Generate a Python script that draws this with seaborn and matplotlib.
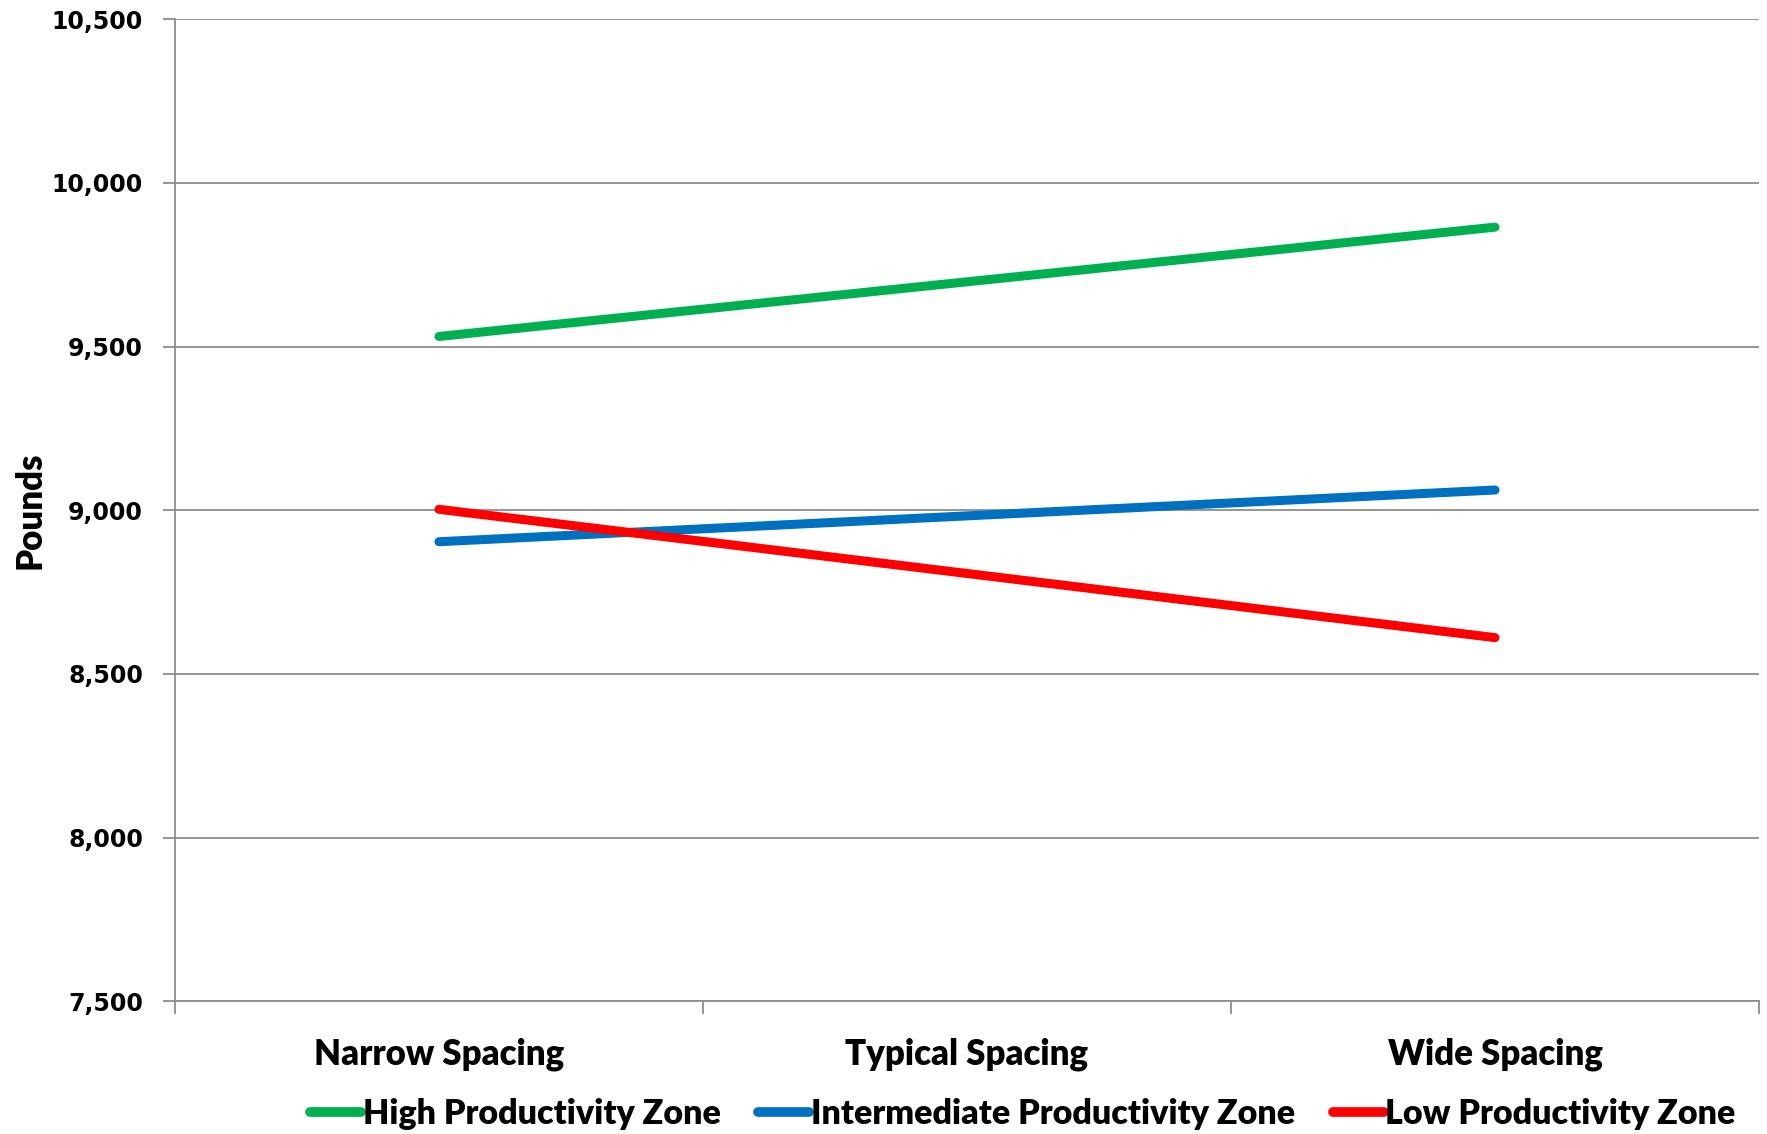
import pandas as pd
import matplotlib.pyplot as plt
import seaborn as sns
from matplotlib.ticker import FuncFormatter, FixedLocator

# Data
spacings = ["Narrow Spacing", "Typical Spacing", "Wide Spacing"]
high_zone = [9531, 9698, 9865]
intermediate_zone = [8904, 8983, 9062]
low_zone = [9003, 8807, 8611]

zone_names = ["High Productivity Zone", "Intermediate Productivity Zone", "Low Productivity Zone"]
zone_colors = ["#00B050", "#0070C0", "#FF0000"]

df = pd.DataFrame({
    "Spacing": spacings * 3,
    "Pounds": high_zone + intermediate_zone + low_zone,
    "Zone": [z for z in zone_names for _ in spacings],
})

sns.set_theme(style="white")
plt.rcParams["font.family"] = ["Lato", "DejaVu Sans"]

fig = plt.figure(figsize=(17.67, 11.34), dpi=100)
ax = fig.add_axes([0.099, 0.117, 0.8965, 0.866])

sns.lineplot(
    data=df, x="Spacing", y="Pounds", hue="Zone",
    palette=dict(zip(zone_names, zone_colors)),
    linewidth=6.5, sort=False, ax=ax,
)
for line in ax.get_lines():
    line.set_solid_capstyle("round")

ax.set_xlim(-0.5, 2.5)
ax.set_ylim(7500, 10500)
ax.set_yticks(range(7500, 10501, 500))
ax.yaxis.set_major_formatter(FuncFormatter(lambda v, p: f"{int(v):,}"))
ax.yaxis.grid(True, color="#8c8c8c", linewidth=1.3)
ax.set_axisbelow(True)

# category boundary ticks on x axis, no tick at label positions
ax.xaxis.set_minor_locator(FixedLocator([-0.5, 0.5, 1.5, 2.5]))
ax.tick_params(axis="x", which="major", length=0, pad=26, labelsize=25)
ax.tick_params(axis="x", which="minor", length=9, width=1.3, color="#8c8c8c", direction="out", bottom=True)
ax.tick_params(axis="y", length=9, width=1.3, color="#8c8c8c", direction="out", left=True, pad=14)
for lab in ax.get_xticklabels():
    lab.set_fontweight("heavy")
    lab.set_color("black")
for lab in ax.get_yticklabels():
    lab.set_fontweight("bold")
    lab.set_fontfamily("DejaVu Sans")
    lab.set_fontsize(17)
    lab.set_color("black")

for side in ["top", "right"]:
    ax.spines[side].set_visible(False)
for side in ["left", "bottom"]:
    ax.spines[side].set_color("#8c8c8c")
    ax.spines[side].set_linewidth(1.3)

ax.set_xlabel("")
ax.set_ylabel("Pounds", fontsize=25, fontweight="heavy", color="black")
ax.yaxis.set_label_coords(-0.081, 0.5)

handles, labels = ax.get_legend_handles_labels()
ax.legend(
    handles, labels, loc="center", bbox_to_anchor=(0.579, 0.018), bbox_transform=fig.transFigure,
    ncol=3, frameon=False, handlelength=1.5, handletextpad=0.05, columnspacing=1.1,
    prop={"weight": "heavy", "size": 24.5}, labelcolor="black",
)
for h in ax.get_legend().get_lines():
    h.set_linewidth(7)
    h.set_solid_capstyle("round")

plt.savefig("out.png", dpi=100)
